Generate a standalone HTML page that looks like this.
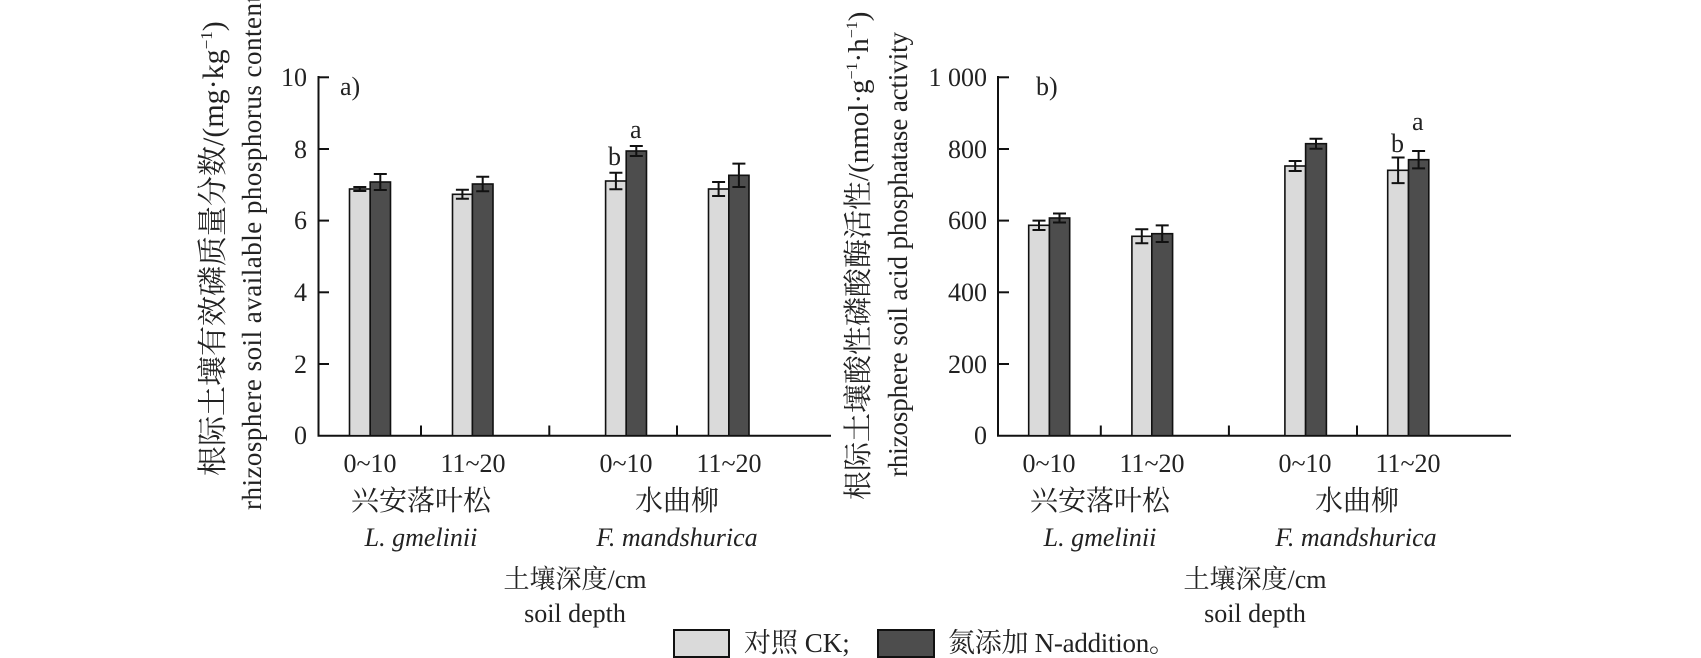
<!DOCTYPE html>
<html><head><meta charset="utf-8"><style>
html,body{margin:0;padding:0;background:#fff;}
svg{display:block;}
text{font-family:"Liberation Serif","Noto Serif CJK SC",serif;fill:#222;}
</style></head><body>
<svg width="1701" height="658" viewBox="0 0 1701 658" xmlns="http://www.w3.org/2000/svg">
<g stroke="#111" stroke-width="2" fill="none">
  <line x1="318.5" y1="76" x2="318.5" y2="436.5"/>
  <line x1="317.5" y1="435.7" x2="831" y2="435.7"/>
  <line x1="318.5" y1="77.3" x2="329" y2="77.3"/>
  <line x1="318.5" y1="149" x2="329" y2="149"/>
  <line x1="318.5" y1="220.6" x2="329" y2="220.6"/>
  <line x1="318.5" y1="292.3" x2="329" y2="292.3"/>
  <line x1="318.5" y1="364" x2="329" y2="364"/>
  <line x1="421" y1="425.5" x2="421" y2="435.7"/>
  <line x1="549.3" y1="425.5" x2="549.3" y2="435.7"/>
  <line x1="677" y1="425.5" x2="677" y2="435.7"/>
  <line x1="998" y1="76" x2="998" y2="436.5"/>
  <line x1="997" y1="435.7" x2="1511" y2="435.7"/>
  <line x1="998" y1="77.3" x2="1009" y2="77.3"/>
  <line x1="998" y1="149" x2="1009" y2="149"/>
  <line x1="998" y1="220.6" x2="1009" y2="220.6"/>
  <line x1="998" y1="292.3" x2="1009" y2="292.3"/>
  <line x1="998" y1="364" x2="1009" y2="364"/>
  <line x1="1100.8" y1="425.5" x2="1100.8" y2="435.7"/>
  <line x1="1228.9" y1="425.5" x2="1228.9" y2="435.7"/>
  <line x1="1357" y1="425.5" x2="1357" y2="435.7"/>
</g>
<g stroke="#111" stroke-width="1.6">
  <rect x="349.5" y="189" width="20.7" height="246.7" fill="#dadada"/>
  <rect x="370.2" y="182" width="20.3" height="253.7" fill="#4d4d4d"/>
  <rect x="452.5" y="194.3" width="19.9" height="241.4" fill="#dadada"/>
  <rect x="472.4" y="184" width="20.6" height="251.7" fill="#4d4d4d"/>
  <rect x="605.6" y="181" width="20.6" height="254.7" fill="#dadada"/>
  <rect x="626.2" y="151" width="20.3" height="284.7" fill="#4d4d4d"/>
  <rect x="708.5" y="189" width="20.3" height="246.7" fill="#dadada"/>
  <rect x="728.8" y="175.3" width="20.2" height="260.4" fill="#4d4d4d"/>
  <rect x="1028.7" y="225.3" width="20.7" height="210.4" fill="#dadada"/>
  <rect x="1049.4" y="218" width="20.3" height="217.7" fill="#4d4d4d"/>
  <rect x="1131.9" y="236.3" width="19.9" height="199.4" fill="#dadada"/>
  <rect x="1151.8" y="233.7" width="20.8" height="202" fill="#4d4d4d"/>
  <rect x="1284.9" y="166" width="20.7" height="269.7" fill="#dadada"/>
  <rect x="1305.6" y="143.7" width="20.8" height="292" fill="#4d4d4d"/>
  <rect x="1387.7" y="170.3" width="20.8" height="265.4" fill="#dadada"/>
  <rect x="1408.5" y="159.7" width="20.3" height="276" fill="#4d4d4d"/>
</g>
<g stroke="#111" stroke-width="2" fill="none">
  <path d="M359.8 187v4M353.3 187h13M353.3 191h13"/>
  <path d="M380.3 174v16M373.8 174h13M373.8 190h13"/>
  <path d="M462.4 189.8v9M455.9 189.8h13M455.9 198.8h13"/>
  <path d="M482.7 176.7v14.6M476.2 176.7h13M476.2 191.3h13"/>
  <path d="M615.9 172.8v16.4M609.4 172.8h13M609.4 189.2h13"/>
  <path d="M636.3 146v10M629.8 146h13M629.8 156h13"/>
  <path d="M718.6 182v14M712.1 182h13M712.1 196h13"/>
  <path d="M738.9 163.6v23.4M732.4 163.6h13M732.4 187h13"/>
  <path d="M1039 220.6v9.4M1032.5 220.6h13M1032.5 230h13"/>
  <path d="M1059.5 213.5v9M1053 213.5h13M1053 222.5h13"/>
  <path d="M1141.8 229.3v14M1135.3 229.3h13M1135.3 243.3h13"/>
  <path d="M1162.2 225.4v16.6M1155.7 225.4h13M1155.7 242h13"/>
  <path d="M1295.2 161v10M1288.7 161h13M1288.7 171h13"/>
  <path d="M1316 138.7v10M1309.5 138.7h13M1309.5 148.7h13"/>
  <path d="M1398.1 157.5v25.6M1391.6 157.5h13M1391.6 183.1h13"/>
  <path d="M1418.6 151v17.4M1412.1 151h13M1412.1 168.4h13"/>
</g>
<g font-size="26" text-anchor="end">
  <text x="307" y="86">10</text>
  <text x="307" y="158">8</text>
  <text x="307" y="229">6</text>
  <text x="307" y="301">4</text>
  <text x="307" y="373">2</text>
  <text x="307" y="444">0</text>
  <text x="987" y="86">1 000</text>
  <text x="987" y="158">800</text>
  <text x="987" y="229">600</text>
  <text x="987" y="301">400</text>
  <text x="987" y="373">200</text>
  <text x="987" y="444">0</text>
</g>
<g font-size="26">
  <text x="340" y="95">a)</text>
  <text x="1036" y="95">b)</text>
  <text x="608" y="165">b</text>
  <text x="630" y="138">a</text>
  <text x="1391" y="152">b</text>
  <text x="1412" y="130">a</text>
</g>
<g font-size="26" text-anchor="middle">
  <text x="370" y="472">0~10</text>
  <text x="473" y="472">11~20</text>
  <text x="626" y="472">0~10</text>
  <text x="729" y="472">11~20</text>
  <text x="1049" y="472">0~10</text>
  <text x="1152" y="472">11~20</text>
  <text x="1305" y="472">0~10</text>
  <text x="1408" y="472">11~20</text>
  <text x="421" y="510" font-size="28">兴安落叶松</text>
  <text x="677" y="510" font-size="28">水曲柳</text>
  <text x="1100" y="510" font-size="28">兴安落叶松</text>
  <text x="1357" y="510" font-size="28">水曲柳</text>
  <text x="421" y="546" font-style="italic">L. gmelinii</text>
  <text x="677" y="546" font-style="italic">F. mandshurica</text>
  <text x="1100" y="546" font-style="italic">L. gmelinii</text>
  <text x="1356" y="546" font-style="italic">F. mandshurica</text>
  <text x="575" y="588">土壤深度/cm</text>
  <text x="575" y="622">soil depth</text>
  <text x="1255" y="588">土壤深度/cm</text>
  <text x="1255" y="622">soil depth</text>
</g>
<rect x="674" y="630" width="55" height="27" fill="#dadada" stroke="#111" stroke-width="2"/>
<rect x="878" y="630" width="56" height="27" fill="#4d4d4d" stroke="#111" stroke-width="2"/>
<g font-size="27">
  <text x="744" y="652">对照 CK;</text>
  <text x="948" y="652" textLength="228">氮添加 N-addition。</text>
</g>
<g font-size="27">
  <text transform="translate(223,476) rotate(-90)" font-size="30">根际土壤有效磷质量分数/(mg·kg<tspan font-size="17" dy="-11">−1</tspan><tspan dy="11">)</tspan></text>
  <text transform="translate(261,510) rotate(-90)" textLength="515">rhizosphere soil available phosphorus content</text>
  <text transform="translate(868,500) rotate(-90)" font-size="29">根际土壤酸性磷酸酶活性/(nmol·g<tspan font-size="16" dy="-11">−1</tspan><tspan dy="11">·h</tspan><tspan font-size="16" dy="-11">−1</tspan><tspan dy="11">)</tspan></text>
  <text transform="translate(907,477) rotate(-90)" textLength="445">rhizosphere soil acid phosphatase activity</text>
</g>
</svg>
</body></html>
